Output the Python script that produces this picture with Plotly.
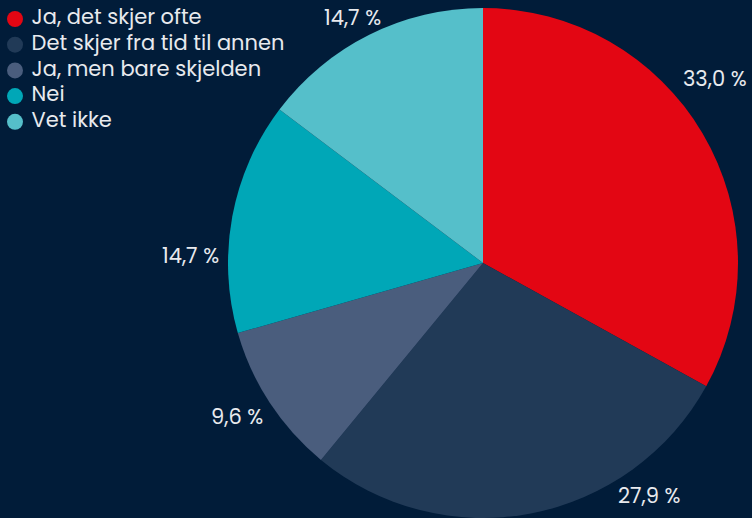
import math

import plotly.graph_objects as go

categories = [
    "Ja, det skjer ofte",
    "Det skjer fra tid til annen",
    "Ja, men bare skjelden",
    "Nei",
    "Vet ikke",
]
shares = [33.0, 27.9, 9.6, 14.7, 14.7]
share_labels = ["33,0 %", "27,9 %", "9,6 %", "14,7 %", "14,7 %"]

colors = ["#E30613", "#213A57", "#4A5D7D", "#00A7B7", "#55BFCA"]
background = "#011C39"
text_color = "#E8EAEE"
font_family = "Poppins, 'Open Sans', sans-serif"

width, height = 752, 518
margin_top = 8
center_x, center_y = 483, 263
radius = 255

# label placement, degrees clockwise from 12 o'clock and distance from centre
label_angles = [51.5, 144.3, 238.0, 271.4, 332.1]
label_dist = [297, 286, 290, 293, 278]

# legend rows (pixel units on a hidden axis)
legend_x = 15
legend_top = 19
legend_step = 25.7

fig = go.Figure()
fig.add_trace(
    go.Pie(
        labels=categories,
        values=shares,
        sort=False,
        direction="clockwise",
        rotation=0,
        marker={"colors": colors, "line": {"width": 0}},
        textinfo="none",
        hoverinfo="label+percent",
        showlegend=False,
        domain={
            "x": [(center_x - radius) / width, (center_x + radius) / width],
            "y": [0, 1],
        },
    )
)

# hand-made legend with round markers
fig.add_trace(
    go.Scatter(
        x=[legend_x] * len(categories),
        y=[legend_top + legend_step * i for i in range(len(categories))],
        mode="markers+text",
        text=[" " + c for c in categories],
        textposition="middle right",
        textfont={"size": 21, "color": text_color, "family": font_family},
        marker={"symbol": "circle", "size": 16, "color": colors},
        hoverinfo="skip",
        showlegend=False,
        cliponaxis=False,
    )
)

plot_h = height - margin_top
for text, ang, dist in zip(share_labels, label_angles, label_dist):
    a = math.radians(ang)
    px = center_x + dist * math.sin(a)
    py = center_y - dist * math.cos(a)
    fig.add_annotation(
        x=px / width,
        y=(height - py) / plot_h,
        xref="paper",
        yref="paper",
        text=text,
        showarrow=False,
        xanchor="center",
        yanchor="middle",
        font={"size": 21, "color": text_color, "family": font_family},
    )

fig.update_layout(
    width=width,
    height=height,
    margin={"l": 0, "r": 0, "t": margin_top, "b": 0},
    paper_bgcolor=background,
    plot_bgcolor="rgba(0,0,0,0)",
    xaxis={"visible": False, "domain": [0, 1], "range": [0, width], "fixedrange": True},
    yaxis={"visible": False, "domain": [0, 1], "range": [height, margin_top], "fixedrange": True},
    showlegend=False,
    font={"family": font_family},
)

fig.write_html(
    "out.html",
    config={"displayModeBar": False},
    post_script="document.body.style.margin='0';",
)
